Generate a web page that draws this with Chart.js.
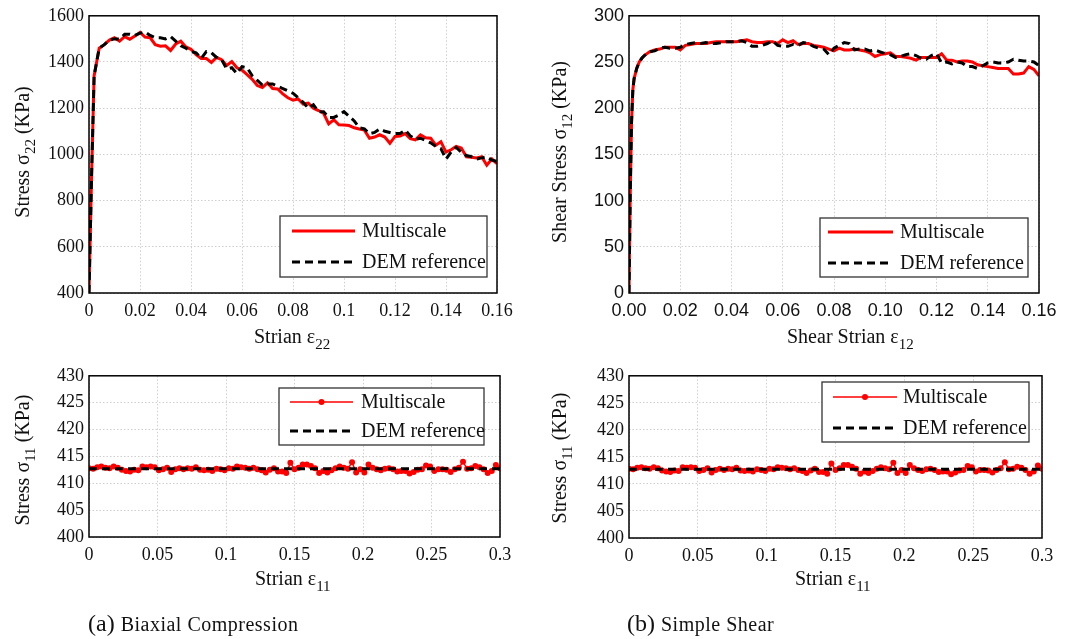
<!DOCTYPE html>
<html>
<head>
<meta charset="utf-8">
<script src="https://cdn.jsdelivr.net/npm/chart.js@4/dist/chart.umd.min.js"></script>
<style>
body{margin:0;background:#fff;width:1066px;height:639px;position:relative;overflow:hidden;}
canvas{position:absolute;}
.lbl{position:absolute;font-family:"Liberation Serif",serif;font-size:20px;line-height:20px;color:#111;white-space:nowrap;}
.lbl sub{font-size:15px;vertical-align:-6px;line-height:0;}
.ylbl{transform:translate(-50%,-50%) rotate(-90deg);}
.cap{position:absolute;font-family:"Liberation Serif",serif;font-size:24px;line-height:24px;color:#111;white-space:nowrap;}
.cap span{font-size:20px;letter-spacing:.5px;margin-left:6px;}
</style>
</head>
<body>
<canvas id="c22" width="530" height="360" style="left:0;top:0"></canvas>
<canvas id="c12" width="526" height="360" style="left:540px;top:0"></canvas>
<canvas id="c11a" width="530" height="279" style="left:0;top:360px"></canvas>
<canvas id="c11b" width="526" height="279" style="left:540px;top:360px"></canvas>

<div class="lbl ylbl" style="left:22px;top:152px">Stress σ<sub>22</sub> (KPa)</div>
<div class="lbl" style="left:254px;top:326px">Strian ε<sub>22</sub></div>
<div class="lbl ylbl" style="left:559px;top:152px">Shear Stress σ<sub>12</sub> (KPa)</div>
<div class="lbl" style="left:787px;top:326px">Shear Strian ε<sub>12</sub></div>
<div class="lbl ylbl" style="left:22px;top:460px">Stress σ<sub>11</sub> (KPa)</div>
<div class="lbl" style="left:255px;top:568px">Strian ε<sub>11</sub></div>
<div class="lbl ylbl" style="left:559px;top:458px">Stress σ<sub>11</sub> (KPa)</div>
<div class="lbl" style="left:795px;top:568px">Strian ε<sub>11</sub></div>
<div class="cap" style="left:88px;top:611px">(a)<span>Biaxial Compression</span></div>
<div class="cap" style="left:627px;top:611px">(b)<span>Simple Shear</span></div>

<script>
// ---- biaxial compression, sigma22 vs eps22
const strain22 = [0, 0.001, 0.002, 0.003, 0.004,
  0.006, 0.008, 0.010, 0.012, 0.014, 0.016, 0.018, 0.020, 0.022, 0.024,
  0.026, 0.028, 0.030, 0.032, 0.034, 0.036, 0.038, 0.040, 0.042, 0.044,
  0.046, 0.048, 0.050, 0.052, 0.054, 0.056, 0.058, 0.060, 0.062, 0.064,
  0.066, 0.068, 0.070, 0.072, 0.074, 0.076, 0.078, 0.080, 0.082, 0.084,
  0.086, 0.088, 0.090, 0.092, 0.094, 0.096, 0.098, 0.100, 0.102, 0.104,
  0.106, 0.108, 0.110, 0.112, 0.114, 0.116, 0.118, 0.120, 0.122, 0.124,
  0.126, 0.128, 0.130, 0.132, 0.134, 0.136, 0.138, 0.140, 0.142, 0.144,
  0.146, 0.148, 0.150, 0.152, 0.154, 0.156, 0.158, 0.160];
const multi22 = [400, 900, 1340, 1400, 1460,
  1475, 1495, 1505, 1490, 1510, 1498, 1512, 1528, 1508, 1505,
  1475, 1468, 1470, 1450, 1478, 1490, 1465, 1455, 1432, 1415,
  1415, 1398, 1420, 1410, 1385, 1402, 1375, 1365, 1345, 1325,
  1298, 1290, 1310, 1285, 1283, 1262, 1245, 1235, 1240, 1218,
  1222, 1200, 1190, 1178, 1132, 1150, 1128, 1127, 1125, 1115,
  1110, 1105, 1070, 1075, 1085, 1075, 1048, 1078, 1080, 1090,
  1068, 1063, 1085, 1072, 1070, 1040, 1055, 1010, 1020, 1035,
  1028, 990, 988, 985, 990, 953, 980, 960];
const dem22 = [400, 900, 1340, 1400, 1460,
  1475, 1495, 1500, 1500, 1520, 1520, 1515, 1525, 1530, 1515,
  1505, 1505, 1500, 1510, 1490, 1470, 1460, 1445, 1440, 1415,
  1445, 1440, 1420, 1410, 1370, 1375, 1350, 1380, 1375, 1340,
  1320, 1300, 1305, 1305, 1295, 1285, 1275, 1265, 1245, 1225,
  1200, 1215, 1185, 1185, 1160, 1160, 1170, 1185, 1165, 1145,
  1115, 1110, 1090, 1095, 1110, 1100, 1095, 1090, 1090, 1105,
  1080, 1065, 1070, 1060, 1050, 1035, 1025, 980, 1010, 1030,
  1010, 995, 990, 980, 985, 990, 975, 970];

// ---- simple shear, sigma12 vs eps12
const strain12 = [0, 0.0005, 0.001, 0.0015, 0.002, 0.003, 0.004, 0.005, 0.006,
  0.008, 0.010, 0.012, 0.014, 0.016, 0.018, 0.020, 0.022, 0.024, 0.026,
  0.028, 0.030, 0.032, 0.034, 0.036, 0.038, 0.040, 0.042, 0.044, 0.046,
  0.048, 0.050, 0.052, 0.054, 0.056, 0.058, 0.060, 0.062, 0.064, 0.066,
  0.068, 0.070, 0.072, 0.074, 0.076, 0.078, 0.080, 0.082, 0.084, 0.086,
  0.088, 0.090, 0.092, 0.094, 0.096, 0.098, 0.100, 0.102, 0.104, 0.106,
  0.108, 0.110, 0.112, 0.114, 0.116, 0.118, 0.120, 0.122, 0.124, 0.126,
  0.128, 0.130, 0.132, 0.134, 0.136, 0.138, 0.140, 0.142, 0.144, 0.146,
  0.148, 0.150, 0.152, 0.154, 0.156, 0.158, 0.160];
const multi12 = [0, 110, 185, 220, 232, 243, 250, 254, 257,
  261, 263, 264, 266, 266, 266, 263, 268, 269, 270,
  270, 270, 271, 272, 272, 272, 272, 272, 273, 274,
  272, 271, 271, 272, 272, 270, 274, 271, 273, 269,
  270, 270, 268, 267, 266, 264, 262, 265, 263, 263,
  264, 263, 262, 260, 256, 258, 259, 260, 256, 256,
  255, 254, 252, 255, 255, 255, 255, 259, 252, 252,
  250, 251, 251, 250, 247, 246, 245, 244, 243, 243,
  243, 237, 237, 238, 245, 242, 235];
const dem12 = [0, 110, 185, 220, 232, 243, 250, 254, 257,
  261, 262, 265, 266, 265, 265, 266, 269, 270, 271,
  270, 271, 270, 270, 271, 272, 272, 272, 273, 271,
  267, 267, 268, 270, 273, 268, 267, 267, 269, 268,
  271, 270, 267, 265, 264, 258, 265, 268, 271, 270,
  263, 264, 264, 262, 263, 261, 259, 258, 255, 256,
  258, 259, 257, 254, 253, 257, 259, 249, 250, 248,
  250, 249, 245, 245, 243, 246, 249, 250, 249, 249,
  250, 253, 252, 251, 251, 250, 246];

// ---- lateral stress sigma11 vs eps11 (same in both tests)
const strain11 = [0, 0.003, 0.006, 0.009, 0.012, 0.015, 0.018, 0.021, 0.024, 0.027,
  0.030, 0.033, 0.036, 0.039, 0.042, 0.045, 0.048, 0.051, 0.054, 0.057,
  0.060, 0.063, 0.066, 0.069, 0.072, 0.075, 0.078, 0.081, 0.084, 0.087,
  0.090, 0.093, 0.096, 0.099, 0.102, 0.105, 0.108, 0.111, 0.114, 0.117,
  0.120, 0.123, 0.126, 0.129, 0.132, 0.135, 0.138, 0.141, 0.144, 0.147,
  0.150, 0.153, 0.156, 0.159, 0.162, 0.165, 0.168, 0.171, 0.174, 0.177,
  0.180, 0.183, 0.186, 0.189, 0.192, 0.195, 0.198, 0.201, 0.204, 0.207,
  0.210, 0.213, 0.216, 0.219, 0.222, 0.225, 0.228, 0.231, 0.234, 0.237,
  0.240, 0.243, 0.246, 0.249, 0.252, 0.255, 0.258, 0.261, 0.264, 0.267,
  0.270, 0.273, 0.276, 0.279, 0.282, 0.285, 0.288, 0.291, 0.294, 0.297,
  0.300];
const multi11 = [412.8, 412.7, 413.0, 413.1, 412.9, 412.8, 413.1, 412.9, 412.5, 412.3,
  412.2, 412.5, 412.4, 413.1, 413.0, 413.1, 413.0, 412.4, 412.6, 412.9,
  412.1, 412.6, 412.8, 412.6, 412.8, 412.7, 413.0, 412.5, 412.4, 412.5,
  412.3, 412.7, 412.6, 412.4, 412.8, 412.7, 413.1, 413.0, 412.9, 412.7,
  412.9, 412.6, 412.4, 412.0, 412.5, 412.8, 412.2, 412.2, 411.9, 413.8,
  412.6, 412.9, 413.5, 413.5, 413.2, 412.8, 411.9, 412.3, 412.0, 412.4,
  412.8, 413.1, 412.9, 412.7, 413.9, 412.0, 412.6, 412.0, 413.5, 412.9,
  412.6, 412.4, 412.7, 412.8, 412.6, 412.2, 412.3, 412.3, 411.8, 412.1,
  412.5, 412.6, 413.3, 413.1, 412.3, 412.6, 412.6, 412.5, 412.1, 412.6,
  412.9, 414.0, 412.7, 412.8, 413.2, 413.0, 412.6, 411.9, 412.3, 413.4,
  412.8];
const demStrain11 = [0, 0.3];
const dem11 = [412.7, 412.7];

const seriesNames = ['Multiscale', 'DEM reference'];

const serif = {family: 'Liberation Serif', size: 18};
const sans = {family: 'Liberation Sans', size: 18};

function pts(xs, ys) {
    return xs.map((x, i) => ({x: x, y: ys[i]}));
}

// closed black frame round the plot area
const framePlugin = {
    id: 'frame',
    afterDatasetsDraw(chart) {
        const a = chart.chartArea, ctx = chart.ctx;
        ctx.save();
        ctx.strokeStyle = '#000';
        ctx.lineWidth = 1.5;
        ctx.strokeRect(a.left, a.top, a.right - a.left, a.bottom - a.top);
        ctx.restore();
    }
};

// boxed legend sitting inside the plot
const boxLegend = {
    id: 'boxLegend',
    afterDraw(chart, args, opts) {
        if (!opts.box) return;
        const ctx = chart.ctx;
        const b = opts.box;
        ctx.save();
        ctx.fillStyle = '#fff';
        ctx.fillRect(b[0], b[1], b[2], b[3]);
        ctx.strokeStyle = '#333';
        ctx.lineWidth = 1.3;
        ctx.strokeRect(b[0], b[1], b[2], b[3]);
        chart.data.datasets.forEach((ds, i) => {
            const y = opts.rows[i];
            ctx.beginPath();
            ctx.setLineDash(ds.borderDash || []);
            ctx.strokeStyle = ds.borderColor;
            ctx.lineWidth = ds.borderWidth;
            ctx.moveTo(opts.line[0], y);
            ctx.lineTo(opts.line[1], y);
            ctx.stroke();
            ctx.setLineDash([]);
            if (ds.pointRadius > 0) {
                ctx.beginPath();
                ctx.fillStyle = ds.pointBackgroundColor;
                ctx.arc((opts.line[0] + opts.line[1]) / 2, y, ds.pointRadius, 0, Math.PI * 2);
                ctx.fill();
            }
            ctx.fillStyle = '#111';
            ctx.font = '20px "Liberation Serif"';
            ctx.textAlign = 'left';
            ctx.textBaseline = 'middle';
            ctx.fillText(ds.label, opts.textX, y + 1);
        });
        ctx.restore();
    }
};
Chart.register(framePlugin, boxLegend);

function axisX(min, max, step, fmt, font, h) {
    return {
        type: 'linear', min: min, max: max,
        ticks: {stepSize: step, color: '#111', font: font, padding: 7, maxRotation: 0, autoSkip: false, callback: fmt},
        grid: {color: '#cfcfcf', lineWidth: 1, drawTicks: false},
        border: {display: false, dash: [1.5, 2]},
        afterFit(s) { s.height = h; }
    };
}
function axisY(min, max, step, font) {
    return {
        type: 'linear', min: min, max: max,
        ticks: {stepSize: step, color: '#111', font: font, padding: 5, callback: v => String(v)},
        grid: {color: '#cfcfcf', lineWidth: 1, drawTicks: false},
        border: {display: false, dash: [1.5, 2]},
        afterFit(s) { s.width = 89; }
    };
}

function lineSet(label, data, kind) {
    if (kind == 'red') {
        return {label: label, data: data, borderColor: '#ff0000', borderWidth: 3, pointRadius: 0, order: 1};
    }
    if (kind == 'redDots') {
        return {label: label, data: data, borderColor: '#ff0000', borderWidth: 1.5, pointRadius: 3,
            pointBackgroundColor: '#ff0000', pointBorderWidth: 0, order: 1};
    }
    return {label: label, data: data, borderColor: '#000', borderWidth: 3, borderDash: [8, 5], pointRadius: 0, order: 0};
}

function makeChart(id, datasets, x, y, pad, legend) {
    return new Chart(document.getElementById(id), {
        type: 'line',
        data: {datasets: datasets},
        options: {
            responsive: false,
            animation: false,
            events: [],
            layout: {padding: pad},
            scales: {x: x, y: y},
            plugins: {
                legend: {display: false},
                tooltip: {enabled: false},
                boxLegend: legend
            }
        }
    });
}

const trimFmt = v => String(+v.toFixed(3));

makeChart('c22',
    [lineSet(seriesNames[0], pts(strain22, multi22), 'red'), lineSet(seriesNames[1], pts(strain22, dem22), 'dash')],
    axisX(0, 0.16, 0.02, trimFmt, serif, 67), axisY(400, 1600, 200, serif),
    {top: 12, right: 33, bottom: 0, left: 0},
    {box: [280, 216, 207, 61], line: [292, 355], textX: 362, rows: [231, 262]});

makeChart('c12',
    [lineSet(seriesNames[0], pts(strain12, multi12), 'red'), lineSet(seriesNames[1], pts(strain12, dem12), 'dash')],
    axisX(0, 0.16, 0.02, v => v.toFixed(2), sans, 67), axisY(0, 300, 50, sans),
    {top: 11, right: 27, bottom: 0, left: 0},
    {box: [280, 218, 208, 59], line: [288, 353], textX: 360, rows: [232, 263]});

makeChart('c11a',
    [lineSet(seriesNames[0], pts(strain11, multi11), 'redDots'), lineSet(seriesNames[1], pts(demStrain11, dem11), 'dash')],
    axisX(0, 0.3, 0.05, trimFmt, serif, 102), axisY(400, 430, 5, serif),
    {top: 15, right: 30, bottom: 0, left: 0},
    {box: [279, 28, 205, 57], line: [290, 353], textX: 361, rows: [42, 71]});

makeChart('c11b',
    [lineSet(seriesNames[0], pts(strain11, multi11), 'redDots'), lineSet(seriesNames[1], pts(demStrain11, dem11), 'dash')],
    axisX(0, 0.3, 0.05, trimFmt, serif, 101), axisY(400, 430, 5, serif),
    {top: 13, right: 24, bottom: 0, left: 0},
    {box: [282, 22, 207, 60], line: [293, 357], textX: 363, rows: [37, 68]});
</script>
</body>
</html>
